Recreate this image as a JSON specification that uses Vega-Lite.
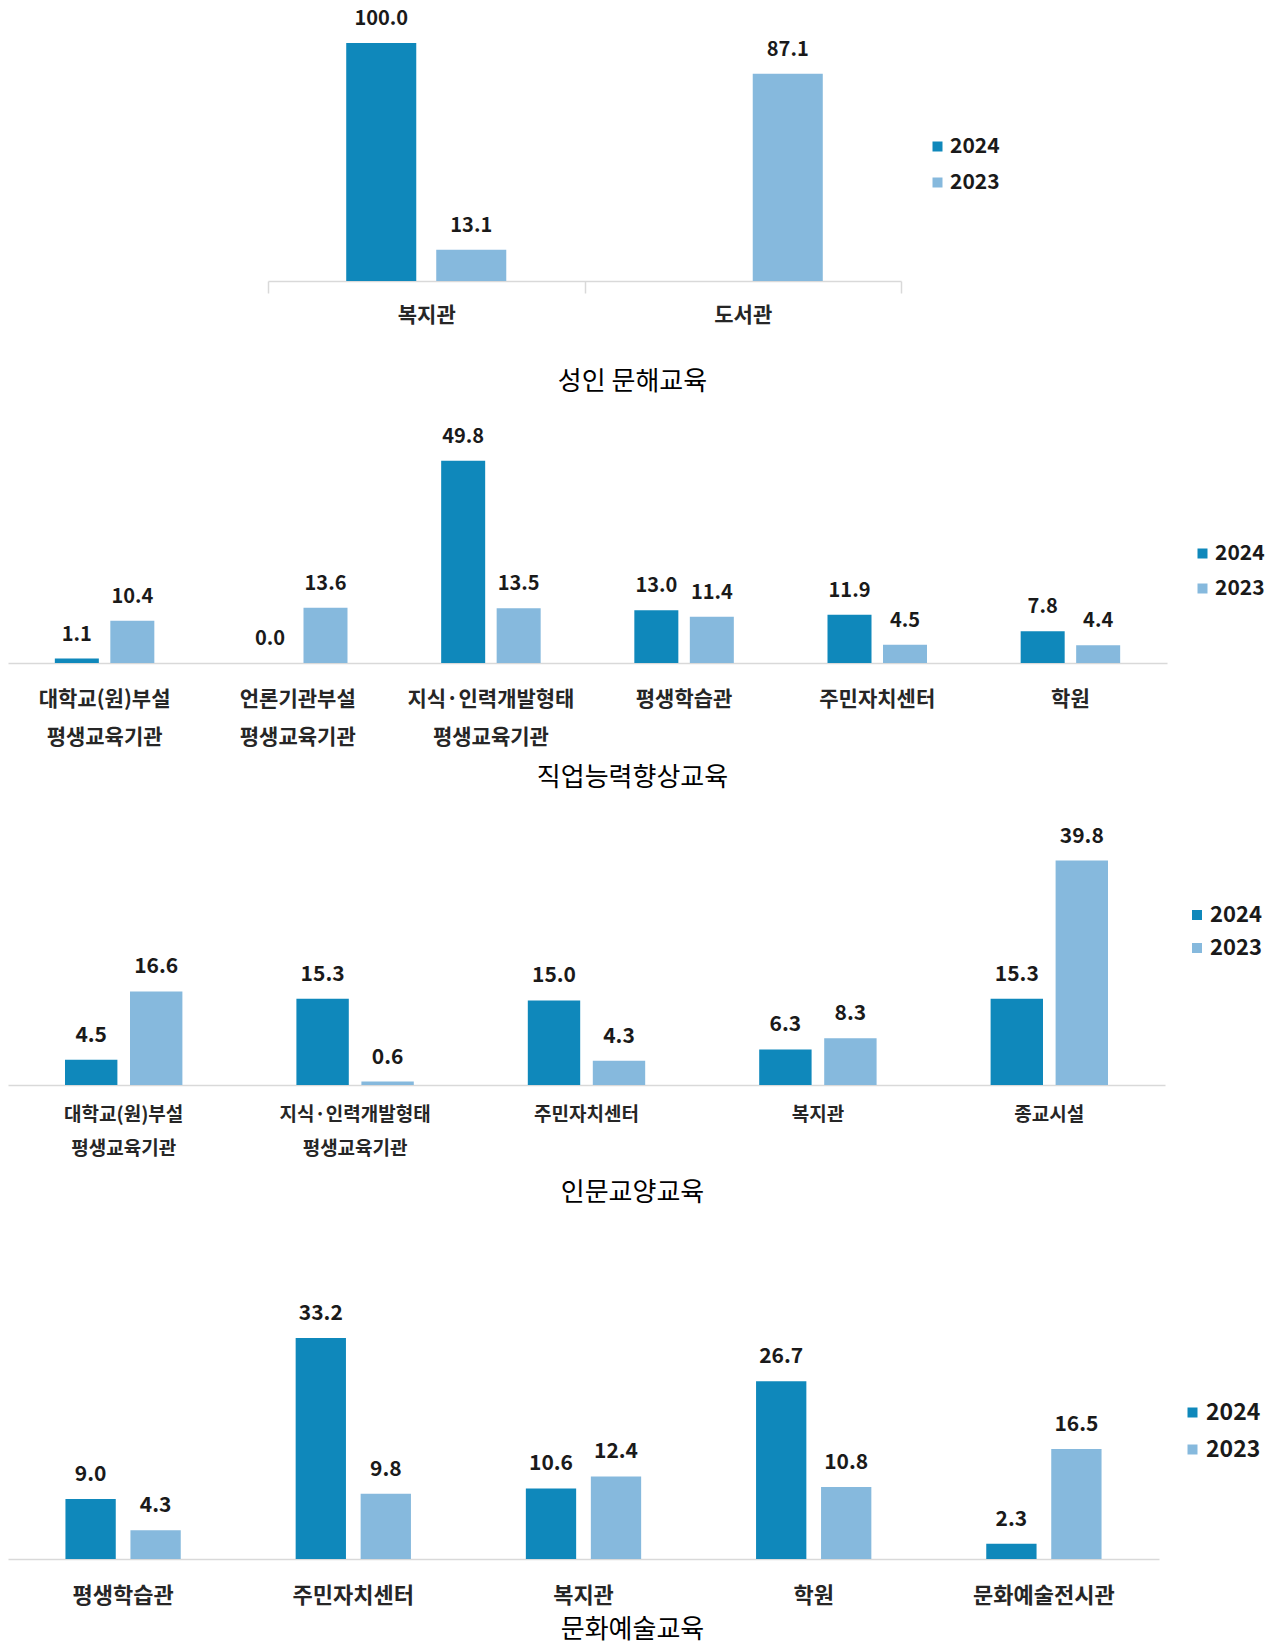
{
  "$schema": "https://vega.github.io/schema/vega-lite/v6.json",
  "background": "white",
  "padding": {"left": 8, "top": 9, "right": 0, "bottom": 8},
  "config": {"font": "Noto Sans CJK KR", "view": {"stroke": null}},
  "bounds": "flush",
  "spacing": 179,
  "resolve": {"scale": {"color": "independent", "x": "independent", "y": "independent", "xOffset": "independent"}, "legend": {"color": "independent"}, "axis": {"x": "independent", "y": "independent"}},
  "vconcat": [
    {
      "width": 1159,
      "height": 238,
      "data": {"values": [
        {"cat": "복지관", "year": "2024", "value": 100.0},
        {"cat": "복지관", "year": "2023", "value": 13.1},
        {"cat": "도서관", "year": "2023", "value": 87.1}
      ]},
      "encoding": {
        "x": {"field": "cat", "type": "nominal", "sort": null, "title": "성인 문해교육",
          "scale": {"range": [260, 893], "paddingInner": 0, "paddingOuter": 0},
          "axis": {"domainColor": "#d9d9d9", "domainWidth": 1.5, "ticks": true, "tickBand": "extent", "tickColor": "#d9d9d9", "tickSize": 12, "tickWidth": 1.5,
            "labelFontSize": 21, "labelFontWeight": "bold", "labelColor": "#262626", "labelPadding": 11, "labelBaseline": "top", "labelAngle": 0,
            "titleFontSize": 26, "titleFontWeight": "normal", "titleColor": "#000000", "titleX": 624, "titleY": 100, "titleBaseline": "middle", "titleAlign": "center"}},
        "xOffset": {"field": "year", "type": "nominal", "sort": ["2024", "2023"], "scale": {"domain": ["2024", "2023"], "paddingInner": 0.222, "paddingOuter": 0.869}},
        "y": {"field": "value", "type": "quantitative", "scale": {"domain": [0, 100], "nice": false}, "axis": null}
      },
      "layer": [
        {"mark": {"type": "bar"},
         "encoding": {"color": {"field": "year", "type": "nominal", "scale": {"domain": ["2024", "2023"], "range": ["#0f88bb", "#86b9dd"]},
           "legend": {"orient": "none", "legendX": 919, "legendY": 93, "title": null, "symbolType": "square", "symbolSize": 100, "labelFontSize": 21, "labelFontWeight": "bold", "labelColor": "#1a1a1a", "rowPadding": 14, "labelOffset": 2}}}},
        {"mark": {"type": "text", "dy": -24, "baseline": "middle", "fontWeight": "bold", "fontSize": 20, "color": "#1a1a1a"},
         "encoding": {"text": {"field": "value", "type": "quantitative", "format": ".1f"}}}
      ]
    },
    {
      "width": 1159,
      "height": 203,
      "data": {"values": [
        {"cat": "대학교(원)부설|평생교육기관", "year": "2024", "value": 1.1},
        {"cat": "대학교(원)부설|평생교육기관", "year": "2023", "value": 10.4},
        {"cat": "언론기관부설|평생교육기관", "year": "2024", "value": 0.0},
        {"cat": "언론기관부설|평생교육기관", "year": "2023", "value": 13.6},
        {"cat": "지식·인력개발형태|평생교육기관", "year": "2024", "value": 49.8},
        {"cat": "지식·인력개발형태|평생교육기관", "year": "2023", "value": 13.5},
        {"cat": "평생학습관", "year": "2024", "value": 13.0},
        {"cat": "평생학습관", "year": "2023", "value": 11.4},
        {"cat": "주민자치센터", "year": "2024", "value": 11.9},
        {"cat": "주민자치센터", "year": "2023", "value": 4.5},
        {"cat": "학원", "year": "2024", "value": 7.8},
        {"cat": "학원", "year": "2023", "value": 4.4}
      ]},
      "encoding": {
        "x": {"field": "cat", "type": "nominal", "sort": null, "title": "직업능력향상교육",
          "scale": {"paddingInner": 0, "paddingOuter": 0},
          "axis": {"domainColor": "#d9d9d9", "domainWidth": 1.5, "ticks": false,
            "labelExpr": "split(datum.label, '|')", "labelLineHeight": 38,
            "labelFontSize": 21, "labelFontWeight": "bold", "labelColor": "#262626", "labelPadding": 25, "labelBaseline": "top", "labelAngle": 0,
            "titleFontSize": 26, "titleFontWeight": "normal", "titleColor": "#000000", "titleX": 624, "titleY": 114, "titleBaseline": "middle", "titleAlign": "center"}},
        "xOffset": {"field": "year", "type": "nominal", "sort": ["2024", "2023"], "scale": {"domain": ["2024", "2023"], "paddingInner": 0.207, "paddingOuter": 0.844}},
        "y": {"field": "value", "type": "quantitative", "scale": {"domain": [0, 50], "nice": false}, "axis": null}
      },
      "layer": [
        {"mark": {"type": "bar"},
         "encoding": {"color": {"field": "year", "type": "nominal", "scale": {"domain": ["2024", "2023"], "range": ["#0f88bb", "#86b9dd"]},
           "legend": {"orient": "none", "legendX": 1184, "legendY": 83, "title": null, "symbolType": "square", "symbolSize": 100, "labelFontSize": 21, "labelFontWeight": "bold", "labelColor": "#1a1a1a", "rowPadding": 13, "labelOffset": 2}}}},
        {"mark": {"type": "text", "dy": -24, "baseline": "middle", "fontWeight": "bold", "fontSize": 20, "color": "#1a1a1a"},
         "encoding": {"text": {"field": "value", "type": "quantitative", "format": ".1f"}}}
      ]
    },
    {
      "width": 1157,
      "height": 243,
      "data": {"values": [
        {"cat": "대학교(원)부설|평생교육기관", "year": "2024", "value": 4.5},
        {"cat": "대학교(원)부설|평생교육기관", "year": "2023", "value": 16.6},
        {"cat": "지식·인력개발형태|평생교육기관", "year": "2024", "value": 15.3},
        {"cat": "지식·인력개발형태|평생교육기관", "year": "2023", "value": 0.6},
        {"cat": "주민자치센터", "year": "2024", "value": 15.0},
        {"cat": "주민자치센터", "year": "2023", "value": 4.3},
        {"cat": "복지관", "year": "2024", "value": 6.3},
        {"cat": "복지관", "year": "2023", "value": 8.3},
        {"cat": "종교시설", "year": "2024", "value": 15.3},
        {"cat": "종교시설", "year": "2023", "value": 39.8}
      ]},
      "encoding": {
        "x": {"field": "cat", "type": "nominal", "sort": null, "title": "인문교양교육",
          "scale": {"paddingInner": 0, "paddingOuter": 0},
          "axis": {"domainColor": "#d9d9d9", "domainWidth": 1.5, "ticks": false,
            "labelExpr": "split(datum.label, '|')", "labelLineHeight": 34,
            "labelFontSize": 19, "labelFontWeight": "bold", "labelColor": "#262626", "labelPadding": 20, "labelBaseline": "top", "labelAngle": 0,
            "titleFontSize": 26, "titleFontWeight": "normal", "titleColor": "#000000", "titleX": 624, "titleY": 107, "titleBaseline": "middle", "titleAlign": "center"}},
        "xOffset": {"field": "year", "type": "nominal", "sort": ["2024", "2023"], "scale": {"domain": ["2024", "2023"], "paddingInner": 0.194, "paddingOuter": 0.877}},
        "y": {"field": "value", "type": "quantitative", "scale": {"domain": [0, 43.1], "nice": false}, "axis": null}
      },
      "layer": [
        {"mark": {"type": "bar"},
         "encoding": {"color": {"field": "year", "type": "nominal", "scale": {"domain": ["2024", "2023"], "range": ["#0f88bb", "#86b9dd"]},
           "legend": {"orient": "none", "legendX": 1178, "legendY": 62, "title": null, "symbolType": "square", "symbolSize": 100, "labelFontSize": 22, "labelFontWeight": "bold", "labelColor": "#1a1a1a", "rowPadding": 11, "labelOffset": 2}}}},
        {"mark": {"type": "text", "dy": -24, "baseline": "middle", "fontWeight": "bold", "fontSize": 21, "color": "#1a1a1a"},
         "encoding": {"text": {"field": "value", "type": "quantitative", "format": ".1f"}}}
      ]
    },
    {
      "width": 1151,
      "height": 295,
      "data": {"values": [
        {"cat": "평생학습관", "year": "2024", "value": 9.0},
        {"cat": "평생학습관", "year": "2023", "value": 4.3},
        {"cat": "주민자치센터", "year": "2024", "value": 33.2},
        {"cat": "주민자치센터", "year": "2023", "value": 9.8},
        {"cat": "복지관", "year": "2024", "value": 10.6},
        {"cat": "복지관", "year": "2023", "value": 12.4},
        {"cat": "학원", "year": "2024", "value": 26.7},
        {"cat": "학원", "year": "2023", "value": 10.8},
        {"cat": "문화예술전시관", "year": "2024", "value": 2.3},
        {"cat": "문화예술전시관", "year": "2023", "value": 16.5}
      ]},
      "encoding": {
        "x": {"field": "cat", "type": "nominal", "sort": null, "title": "문화예술교육",
          "scale": {"paddingInner": 0, "paddingOuter": 0},
          "axis": {"domainColor": "#d9d9d9", "domainWidth": 1.5, "ticks": false,
            "labelFontSize": 22, "labelFontWeight": "bold", "labelColor": "#262626", "labelPadding": 26, "labelBaseline": "top", "labelAngle": 0,
            "titleFontSize": 26, "titleFontWeight": "normal", "titleColor": "#000000", "titleX": 624, "titleY": 70, "titleBaseline": "middle", "titleAlign": "center"}},
        "xOffset": {"field": "year", "type": "nominal", "sort": ["2024", "2023"], "scale": {"domain": ["2024", "2023"], "paddingInner": 0.226, "paddingOuter": 0.884}},
        "y": {"field": "value", "type": "quantitative", "scale": {"domain": [0, 44.3], "nice": false}, "axis": null}
      },
      "layer": [
        {"mark": {"type": "bar"},
         "encoding": {"color": {"field": "year", "type": "nominal", "scale": {"domain": ["2024", "2023"], "range": ["#0f88bb", "#86b9dd"]},
           "legend": {"orient": "none", "legendX": 1173, "legendY": 137, "title": null, "symbolType": "square", "symbolSize": 100, "labelFontSize": 23, "labelFontWeight": "bold", "labelColor": "#1a1a1a", "rowPadding": 13, "labelOffset": 2}}}},
        {"mark": {"type": "text", "dy": -24, "baseline": "middle", "fontWeight": "bold", "fontSize": 21, "color": "#1a1a1a"},
         "encoding": {"text": {"field": "value", "type": "quantitative", "format": ".1f"}}}
      ]
    }
  ]
}
